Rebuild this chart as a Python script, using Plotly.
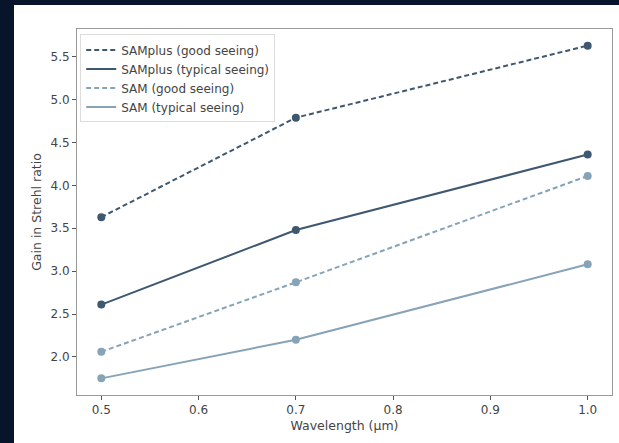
import plotly.graph_objects as go

wavelength = [0.5, 0.7, 1.0]
samplus_good = [3.63, 4.79, 5.63]
samplus_typical = [2.61, 3.48, 4.36]
sam_good = [2.06, 2.87, 4.11]
sam_typical = [1.75, 2.20, 3.08]

series_names = ["SAMplus (good seeing)", "SAMplus (typical seeing)",
                "SAM (good seeing)", "SAM (typical seeing)"]
series_values = [samplus_good, samplus_typical, sam_good, sam_typical]
dark = "#3e5870"
light = "#87a3b7"
styles = [(dark, "5px,3px"), (dark, "solid"), (light, "5px,3px"), (light, "solid")]

W, H = 619, 443
L, R, T, B = 77, 7, 29, 48
pw, ph = W - L - R, H - T - B
bg_dark = "#08142a"

fig = go.Figure()
for name, vals, (col, dash) in zip(series_names, series_values, styles):
    fig.add_trace(go.Scatter(x=wavelength, y=vals, mode="lines+markers",
                             line=dict(color=col, width=2, dash=dash),
                             marker=dict(color=col, size=8),
                             showlegend=False, hoverinfo="skip"))
for name, (col, dash) in zip(series_names, styles):
    fig.add_trace(go.Scatter(x=[None], y=[None], mode="lines", name=name,
                             line=dict(color=col, width=2, dash=dash)))

# dark background bands (top and left) around the white card
fig.add_shape(type="rect", xref="paper", yref="paper", layer="below",
              x0=-(L + 10) / pw, x1=(14 - L) / pw,
              y0=-(B + 10) / ph, y1=(H - B + 10) / ph,
              fillcolor=bg_dark, line=dict(width=0))
fig.add_shape(type="rect", xref="paper", yref="paper", layer="below",
              x0=-(L + 10) / pw, x1=(W - L + 10) / pw,
              y0=(H - B - 5) / ph, y1=(H - B + 10) / ph,
              fillcolor=bg_dark, line=dict(width=0))

axis_common = dict(showline=True, linecolor="#9a9a9a", linewidth=1, mirror=True,
                   ticks="outside", ticklen=4, tickcolor="#555", showgrid=False,
                   zeroline=False, automargin=False,
                   tickfont=dict(size=12, color="#444"))
fig.update_xaxes(range=[0.475, 1.025], tickvals=[0.5, 0.6, 0.7, 0.8, 0.9, 1.0],
                 ticktext=["0.5", "0.6", "0.7", "0.8", "0.9", "1.0"],
                 title=dict(text="Wavelength (μm)", font=dict(size=12.5, color="#444"), standoff=4),
                 **axis_common)
fig.update_yaxes(range=[1.556, 5.824], tickvals=[2.0, 2.5, 3.0, 3.5, 4.0, 4.5, 5.0, 5.5],
                 ticktext=["2.0", "2.5", "3.0", "3.5", "4.0", "4.5", "5.0", "5.5"],
                 title=dict(text="Gain in Strehl ratio", font=dict(size=12.5, color="#444"), standoff=6),
                 **axis_common)
fig.update_layout(
    width=W, height=H, margin=dict(l=L, r=R, t=T, b=B),
    paper_bgcolor="white", plot_bgcolor="white",
    font=dict(family="DejaVu Sans", color="#444"),
    legend=dict(x=0.006, y=0.985, xanchor="left", yanchor="top",
                bgcolor="rgba(255,255,255,0.9)", bordercolor="#dddddd", borderwidth=1,
                font=dict(size=12, color="#444"), tracegroupgap=0, itemwidth=30),
)
fig.write_html("out.html", config={"displayModeBar": False},
               post_script=("document.body.style.margin='0';"
                            "document.body.style.background='white';"
                            "document.documentElement.style.background='white';"
                            "document.body.style.overflow='hidden';"
                            "document.documentElement.style.overflow='hidden';"))
